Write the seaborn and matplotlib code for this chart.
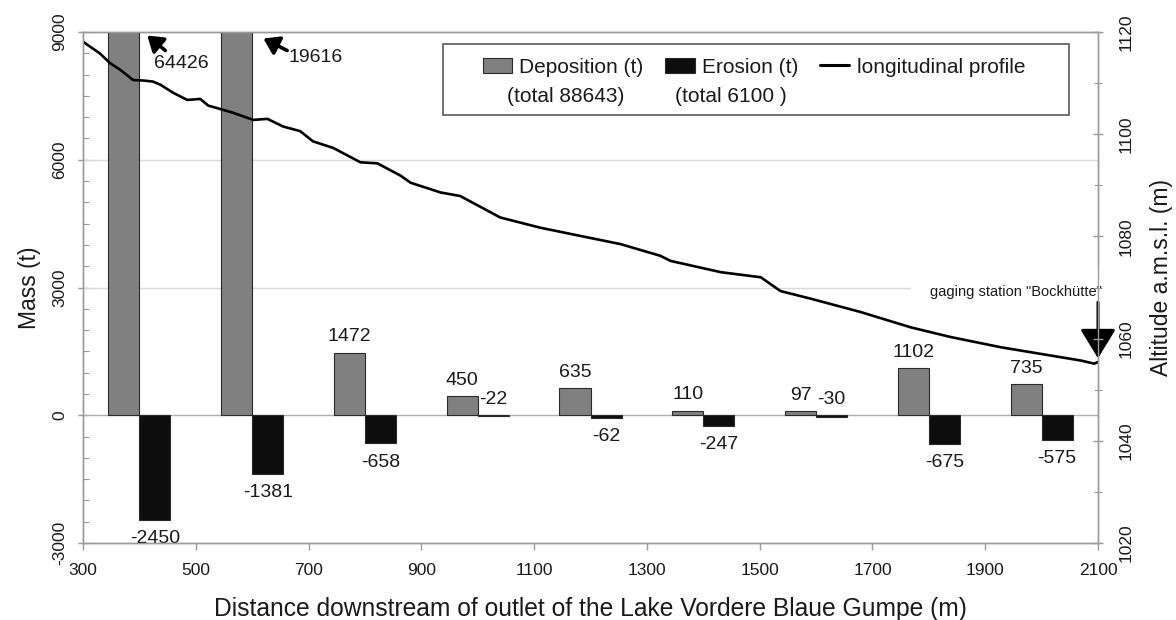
import matplotlib
matplotlib.use("Agg")
import matplotlib.pyplot as plt
import numpy as np
import pandas as pd
import seaborn as sns
from matplotlib.patches import Patch, Rectangle
from matplotlib.lines import Line2D
from matplotlib.ticker import MultipleLocator

# ---------------- data ----------------
centers = [400, 600, 800, 1000, 1200, 1400, 1600, 1800, 2000]
deposition = [64426, 19616, 1472, 450, 635, 110, 97, 1102, 735]
erosion = [-2450, -1381, -658, -22, -62, -247, -30, -675, -575]

profile_dist = [300, 330, 348, 366, 389, 407, 424, 437, 460, 485, 508, 522, 538,
                566, 602, 627, 655, 685, 708, 744, 792, 822, 863, 881, 934, 969,
                1040, 1111, 1195, 1253, 1324, 1342, 1431, 1502, 1537, 1591, 1679,
                1768, 1839, 1928, 1999, 2070, 2093, 2100]
profile_alt = [1118.1, 1115.8, 1113.9, 1112.6, 1110.6, 1110.5, 1110.3, 1109.7,
               1108.1, 1106.7, 1106.9, 1105.6, 1105.1, 1104.2, 1102.8, 1103.0,
               1101.5, 1100.6, 1098.6, 1097.3, 1094.5, 1094.3, 1091.9, 1090.5,
               1088.6, 1087.9, 1083.7, 1081.7, 1079.8, 1078.5, 1076.2, 1075.2,
               1073.0, 1072.0, 1069.3, 1067.8, 1065.2, 1062.2, 1060.3, 1058.3,
               1057.0, 1055.7, 1055.1, 1055.4]

legend_labels = ["Deposition (t)", "Erosion (t)", "longitudinal profile"]
totals = ["(total 88643)", "(total 6100 )"]
x_ticks = [300, 500, 700, 900, 1100, 1300, 1500, 1700, 1900, 2100]
mass_ticks = [-3000, 0, 3000, 6000, 9000]
alt_ticks = [1020, 1040, 1060, 1080, 1100, 1120]

# ---------------- style ----------------
sns.set_theme(style="white")
plt.rcParams["font.family"] = ["Liberation Sans", "DejaVu Sans"]
TXT = "#1a1a1a"
GRAY = "#808080"
SPINE = "#9a9a9a"

fig = plt.figure(figsize=(11.76, 6.2), dpi=100)
ax = fig.add_axes([83 / 1176, 77 / 620, 1015 / 1176, 511 / 620])

df = pd.DataFrame({
    "dist": centers + centers,
    "mass": deposition + erosion,
    "kind": ["Deposition"] * len(centers) + ["Erosion"] * len(centers),
})
sns.barplot(data=df, x="dist", y="mass", hue="kind", native_scale=True,
            width=0.55, dodge=True, saturation=1, errorbar=None,
            palette={"Deposition": GRAY, "Erosion": "#0d0d0d"},
            edgecolor="#2a2a2a", linewidth=0.8, legend=False, ax=ax, zorder=3)

ax.set_xlim(300, 2100)
ax.set_ylim(-3000, 9000)
ax.set_xticks(x_ticks)
ax.set_xticklabels([str(v) for v in x_ticks])
ax.set_yticks(mass_ticks)
ax.set_yticklabels([str(v) for v in mass_ticks])
ax.yaxis.set_minor_locator(MultipleLocator(500))

ax.grid(False)
for v in mass_ticks[1:-1]:
    ax.axhline(v, color="#d9d9d9" if v != 0 else "#b0b0b0", lw=1.0, zorder=1)

for s in ax.spines.values():
    s.set_color(SPINE)
    s.set_linewidth(1.0)
    s.set_visible(True)

ax.tick_params(axis="x", which="major", direction="out", length=5, width=1,
               color=SPINE, labelsize=12.5, labelcolor=TXT, pad=9.5, bottom=True)
ax.tick_params(axis="y", which="major", direction="inout", length=7, width=1,
               color=SPINE, labelsize=12.5, labelcolor=TXT, pad=8,
               labelrotation=90, left=True)
ax.tick_params(axis="y", which="minor", direction="in", length=4, width=0.8,
               color=SPINE, left=True)
for lbl in ax.get_yticklabels():
    lbl.set_va("center")

ax.set_xlabel("Distance downstream of outlet of the Lake Vordere Blaue Gumpe (m)",
              fontsize=17.7, color=TXT)
ax.set_ylabel("Mass (t)", fontsize=16.5, color=TXT)
ax.yaxis.set_label_coords(-0.041, 0.5)
ax.xaxis.set_label_coords(0.5, -0.105)

# value labels
dep_bars = ax.containers[0]
ero_bars = ax.containers[1]
ymax = ax.get_ylim()[1]
for bar, v in zip(dep_bars, deposition):
    if v > ymax:
        continue
    xc = bar.get_x() + bar.get_width() / 2
    ax.annotate(str(v), (xc, v), xytext=(0, 8), textcoords="offset points",
                ha="center", va="baseline", fontsize=14, color=TXT)
for bar, v in zip(ero_bars, erosion):
    xc = bar.get_x() + bar.get_width() / 2
    if abs(v) < 50:
        ax.annotate(str(v), (xc, 0), xytext=(0, 8), textcoords="offset points",
                    ha="center", va="baseline", fontsize=14, color=TXT)
    else:
        ax.annotate(str(v), (xc, v), xytext=(0, -7.5), textcoords="offset points",
                    ha="center", va="top", fontsize=14, color=TXT)

# off-scale bars
big_arrow = dict(arrowstyle="-|>,head_length=0.45,head_width=0.3", color="black",
                 lw=2.6, mutation_scale=20, shrinkA=0, shrinkB=0)
ax.annotate("", xy=(414, 8917), xytext=(446, 8565), arrowprops=big_arrow, zorder=6)
ax.text(474, 8262, str(deposition[0]), ha="center", va="center", fontsize=14, color=TXT)
ax.annotate("", xy=(620, 8847), xytext=(662, 8565), arrowprops=big_arrow, zorder=6)
ax.text(712, 8402, str(deposition[1]), ha="center", va="center", fontsize=14, color=TXT)

# gaging station
ax.text(1955, 2887, 'gaging station "Bockhütte"', ha="center", va="center",
        fontsize=10.5, color=TXT, zorder=4,
        bbox=dict(facecolor="white", edgecolor="none", pad=14))
ax.annotate("", xy=(2100, 1338), xytext=(2100, 2653),
            arrowprops=dict(arrowstyle="-|>,head_length=0.9,head_width=0.55",
                            color="black", lw=2.2, mutation_scale=20,
                            shrinkA=0, shrinkB=0),
            annotation_clip=False, zorder=6)

# ---------------- profile (right axis) ----------------
ax2 = ax.twinx()
sns.lineplot(x=profile_dist, y=profile_alt, ax=ax2, color="black", lw=1.9,
             sort=False, estimator=None)
ax2.set_ylim(1020, 1120)
ax2.set_yticks(alt_ticks)
ax2.set_yticklabels([str(v) for v in alt_ticks])
ax2.yaxis.set_minor_locator(MultipleLocator(10))
ax2.grid(False)
for s in ax2.spines.values():
    s.set_color(SPINE)
    s.set_linewidth(1.0)
ax2.tick_params(axis="y", which="major", direction="inout", length=7, width=1,
                color=SPINE, labelsize=12.5, labelcolor=TXT, pad=11,
                labelrotation=90, right=True)
ax2.tick_params(axis="y", which="minor", direction="inout", length=6, width=0.8,
                color=SPINE, right=True)
for lbl in ax2.get_yticklabels():
    lbl.set_va("center")
ax2.set_ylabel("Altitude a.m.s.l. (m)", fontsize=16.5, color=TXT)
ax2.yaxis.set_label_coords(1.051, 0.52)

# ---------------- legend ----------------
handles = [Patch(facecolor=GRAY, edgecolor="#2a2a2a", lw=0.8),
           Patch(facecolor="#0d0d0d", edgecolor="#2a2a2a", lw=0.8),
           Line2D([0], [0], color="black", lw=2.2)]
ax2.legend(handles, legend_labels, ncol=3, loc="center left",
           bbox_to_anchor=(0.394, 0.9315), bbox_transform=ax2.transAxes,
           frameon=False, fontsize=15, handlelength=1.4, handleheight=0.7,
           handletextpad=0.35, columnspacing=1.05, borderpad=0, borderaxespad=0,
           labelcolor=TXT)
ax2.add_patch(Rectangle((0.355, 0.838), 0.616, 0.139, transform=ax2.transAxes,
                        fill=False, edgecolor="#666666", lw=1.3, zorder=5))
ax2.text(0.476, 0.873, totals[0], transform=ax2.transAxes, ha="center",
         va="center", fontsize=15, color=TXT)
ax2.text(0.638, 0.873, totals[1], transform=ax2.transAxes, ha="center",
         va="center", fontsize=15, color=TXT)

fig.savefig("out.png", dpi=100)
